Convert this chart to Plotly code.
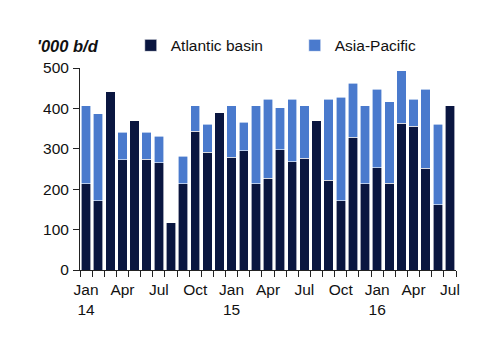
import plotly.graph_objects as go

months = ["Jan", "Feb", "Mar", "Apr", "May", "Jun", "Jul", "Aug", "Sep", "Oct", "Nov", "Dec"] * 2 + \
         ["Jan", "Feb", "Mar", "Apr", "May", "Jun", "Jul"]
years = ["14"] * 12 + ["15"] * 12 + ["16"] * 7

atlantic = [213, 172, 441, 273, 369, 274, 266, 117, 214, 343, 291, 389,
            279, 295, 213, 227, 298, 268, 277, 369, 222, 172, 328, 213,
            253, 215, 363, 356, 252, 161, 406]
totals = [406, 387, 441, 341, 369, 341, 331, 117, 281, 406, 361, 389,
          406, 366, 406, 423, 402, 423, 406, 369, 423, 428, 462, 406,
          448, 416, 493, 423, 447, 361, 406]
asia = [t - a for t, a in zip(totals, atlantic)]

x = list(range(len(months)))
tickvals = [i for i in x if months[i] in ("Jan", "Apr", "Jul", "Oct")]
ticktext = [months[i] + ("<br>" + years[i] if months[i] == "Jan" else "") for i in tickvals]

dark = "#0a1640"
light = "#4a7acd"
font = "Liberation Sans, Arial, sans-serif"

fig = go.Figure()
fig.add_bar(x=x, y=atlantic, name="Atlantic basin", marker=dict(color=dark, line=dict(color="white", width=0.6)))
fig.add_bar(x=x, y=asia, name="Asia-Pacific", marker=dict(color=light, line=dict(color="white", width=0.6)))

fig.update_layout(
    barmode="stack",
    bargap=0.22,
    width=500, height=353,
    margin=dict(l=80, r=44, t=68, b=83),
    paper_bgcolor="white", plot_bgcolor="white",
    font=dict(family=font, size=15, color="#111111"),
    showlegend=True,
    legend=dict(orientation="h", x=0.135, y=1.11, xanchor="left", yanchor="middle",
                font=dict(size=15.5), entrywidth=119, entrywidthmode="pixels",
                bgcolor="rgba(0,0,0,0)", traceorder="normal"),
    xaxis=dict(range=[-0.5, len(x) - 0.5], tickmode="array", tickvals=tickvals, ticktext=ticktext,
               ticks="", showline=True, linecolor="#222", linewidth=1, showgrid=False, zeroline=False,
               ticklabelstandoff=5,
               minor=dict(tickmode="array", tickvals=[i - 0.5 for i in range(len(x) + 1)],
                          ticks="outside", ticklen=6, tickcolor="#222", tickwidth=1),
               tickfont=dict(size=15.5)),
    yaxis=dict(range=[0, 500], tickvals=[0, 100, 200, 300, 400, 500], ticks="outside", ticklen=6,
               tickcolor="#222", showline=True, linecolor="#222", linewidth=1, showgrid=False,
               zeroline=False, tickfont=dict(size=15.5), ticklabelstandoff=1),
    annotations=[dict(text="<b><i>'000 b/d</i></b>", xref="paper", yref="paper", x=-0.12, y=1.109,
                      xanchor="left", yanchor="middle", showarrow=False, font=dict(size=16.5, family=font))],
)

fig.write_html("out.html")
